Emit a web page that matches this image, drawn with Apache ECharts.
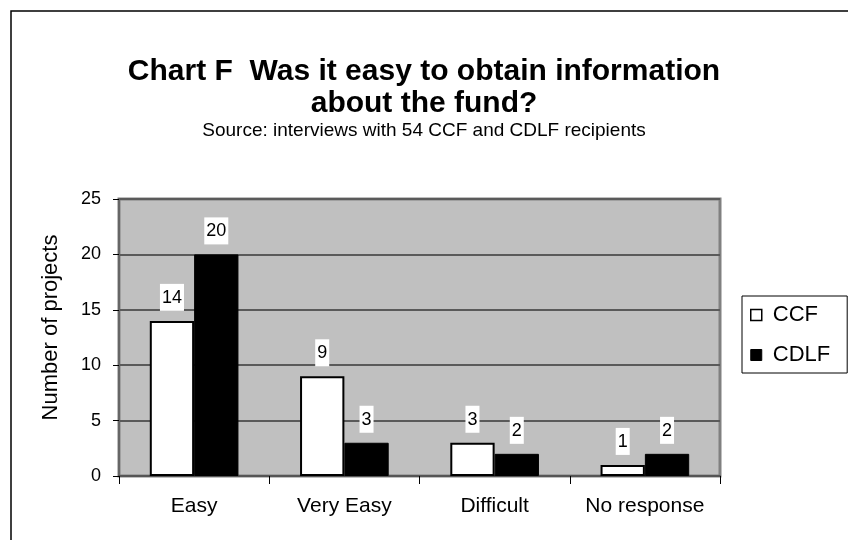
<!DOCTYPE html>
<html>
<head>
<meta charset="utf-8">
<script src="https://cdn.jsdelivr.net/npm/echarts@6/dist/echarts.min.js"></script>
<style>
  html, body { margin: 0; padding: 0; background: #fff; }
  #chart { width: 848px; height: 540px; }
</style>
</head>
<body>
<div id="chart"></div>
<script>
const categories = ['Easy', 'Very Easy', 'Difficult', 'No response']
const ccf = [14, 9, 3, 1]
const cdlf = [20, 3, 2, 2]
const yTicks = [0, 5, 10, 15, 20, 25]

const font = '"Liberation Sans", Arial, sans-serif'

const chart = echarts.init(document.getElementById('chart'))

// value labels sit in small white boxes above each bar
const labelStyle = {
  show: true,
  position: 'top',
  distance: 10,
  color: '#000',
  fontFamily: font,
  fontSize: 18,
  backgroundColor: '#fff',
  padding: [5, 2, 4, 2]
}

chart.setOption({
  animation: false,
  title: [{
    text: 'Chart F  Was it easy to obtain information\nabout the fund?',
    left: 'center',
    top: 51,
    textStyle: { fontFamily: font, fontSize: 30, fontWeight: 'bold', color: '#000', lineHeight: 32 }
  }, {
    text: 'Source: interviews with 54 CCF and CDLF recipients',
    left: 'center',
    top: 116,
    textStyle: { fontFamily: font, fontSize: 19, fontWeight: 'normal', color: '#000' }
  }],
  graphic: [{
    type: 'rect',
    shape: { x: 11, y: 11, width: 900, height: 600 },
    style: { fill: 'none', stroke: '#000', lineWidth: 1.5 },
    silent: true
  }],
  legend: {
    orient: 'vertical',
    left: 742,
    top: 296,
    padding: [7, 17, 6, 8],
    itemGap: 16,
    itemWidth: 11,
    itemHeight: 11,
    borderColor: '#000',
    borderWidth: 1,
    backgroundColor: '#fff',
    textStyle: { fontFamily: font, fontSize: 22, lineHeight: 24, color: '#000', padding: [0, 0, 0, 6] },
    data: [
      { name: 'CCF', icon: 'rect', itemStyle: { color: '#fff', borderColor: '#000', borderWidth: 1.5 } },
      { name: 'CDLF', icon: 'rect', itemStyle: { color: '#000', borderColor: '#000', borderWidth: 1 } }
    ]
  },
  grid: {
    left: 119, right: 128, top: 199, bottom: 64,
    show: true,
    backgroundColor: '#c0c0c0',
    borderColor: '#808080',
    borderWidth: 3
  },
  xAxis: {
    type: 'category',
    data: categories,
    axisLine: { lineStyle: { color: '#555', width: 2 } },
    axisTick: { show: true, length: 8, lineStyle: { color: '#000' } },
    axisLabel: { fontFamily: font, fontSize: 21, color: '#000', margin: 20, interval: 0, hideOverlap: false }
  },
  yAxis: {
    type: 'value',
    min: yTicks[0],
    max: yTicks[yTicks.length - 1],
    interval: 5,
    name: 'Number of projects',
    nameLocation: 'middle',
    nameGap: 57,
    nameTextStyle: { fontFamily: font, fontSize: 22, color: '#000', padding: [0, 0, 0, 20] },
    axisLine: { show: true, lineStyle: { color: '#666', width: 2 } },
    axisTick: { show: true, length: 6, lineStyle: { color: '#000' } },
    axisLabel: { fontFamily: font, fontSize: 18, color: '#000', margin: 18 },
    splitLine: { lineStyle: { color: '#5a5a5a', width: 2 } }
  },
  series: [{
    name: 'CCF',
    type: 'bar',
    data: ccf,
    barGap: '0%',
    barCategoryGap: '41%',
    itemStyle: { color: '#fff', borderColor: '#000', borderWidth: 2 },
    label: labelStyle
  }, {
    name: 'CDLF',
    type: 'bar',
    data: cdlf,
    itemStyle: { color: '#000', borderColor: '#000', borderWidth: 1 },
    label: labelStyle
  }]
})
</script>
</body>
</html>
